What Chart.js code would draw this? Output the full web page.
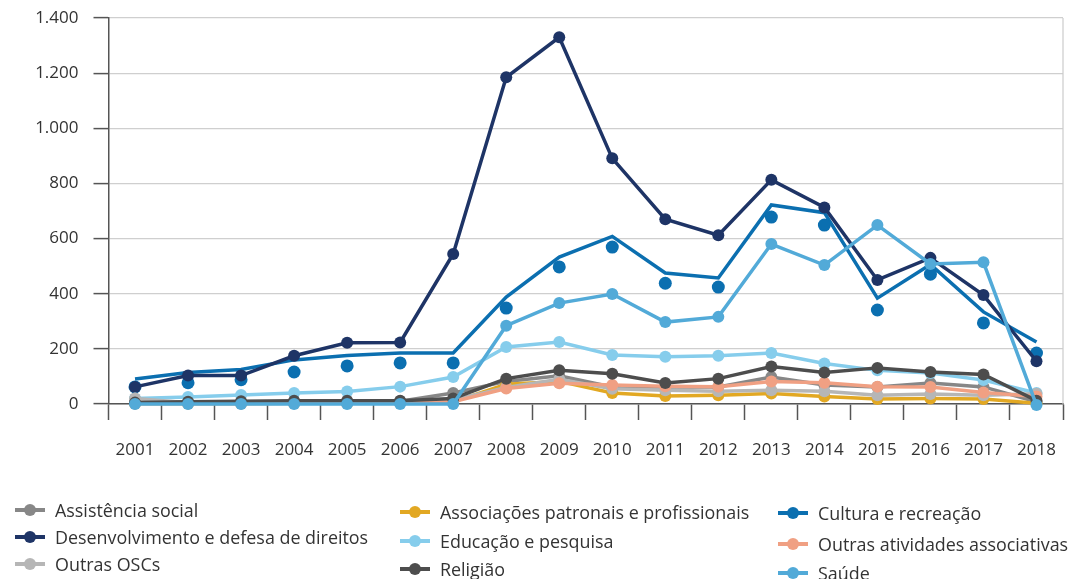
<!DOCTYPE html>
<html>
<head>
<meta charset="utf-8">
<script src="https://cdn.jsdelivr.net/npm/chart.js@4.4.1/dist/chart.umd.min.js"></script>
<style>
  html, body { margin: 0; padding: 0; background: #fff; }
  #wrap { position: relative; width: 1073px; height: 579px; overflow: hidden; }
  #c { position: absolute; left: 0; top: 0; }
  .lg { position: absolute; font-family: "Open Sans", sans-serif; font-size: 17.9px; color: #333; white-space: nowrap; display: flex; align-items: center; }
  .mk { position: relative; width: 30px; height: 12px; margin-right: 10px; }
  .mk .ln { position: absolute; left: 0; right: 0; top: 4px; height: 4px; }
  .mk .dt { position: absolute; left: 9px; top: 0; width: 12px; height: 12px; border-radius: 50%; }
</style>
</head>
<body>
<div id="wrap">
  <canvas id="c" width="1073" height="579"></canvas>
  <div id="legend"></div>
</div>
<script>
const years = ['2001','2002','2003','2004','2005','2006','2007','2008','2009','2010','2011','2012','2013','2014','2015','2016','2017','2018'];
const yTicks = [0, 200, 400, 600, 800, 1000, 1200, 1400];

const assistenciaSocial   = [5, 5, 5, 6, 8, 10, 40, 82, 102, 62, 62, 62, 98, 69, 62, 76, 62, 8];
const associacoesPatronais= [2, 2, 2, 3, 3, 4, 8, 72, 82, 40, 29, 32, 38, 27, 18, 20, 18, 3];
const culturaPontos       = [62, 77, 88, 116, 138, 149, 149, 348, 497, 569, 438, 424, 678, 649, 341, 471, 294, 185];
const culturaLinha        = [91, 114, 125, 160, 176, 185, 185, 388, 533, 608, 475, 457, 722, 694, 384, 506, 334, 225];
const desenvolvimento     = [62, 103, 103, 175, 222, 223, 544, 1185, 1330, 891, 670, 612, 813, 713, 450, 530, 395, 155];
const educacao            = [20, 25, 33, 40, 45, 63, 98, 207, 225, 178, 171, 175, 185, 147, 122, 112, 87, 40];
const outrasAtividades    = [2, 2, 2, 3, 3, 4, 8, 56, 75, 69, 64, 63, 82, 77, 63, 62, 42, 27];
const outrasOSCs          = [20, 5, 5, 5, 6, 8, 15, 60, 90, 55, 50, 46, 50, 46, 32, 36, 32, 37];
const religiao            = [5, 8, 10, 12, 12, 12, 20, 92, 122, 110, 76, 92, 136, 114, 131, 116, 107, 12];
const saude               = [0, 0, 0, 0, 0, 0, 0, 284, 366, 399, 297, 316, 580, 504, 649, 508, 514, -4];

const C = {
  assist: '#878787', assoc: '#E2A823', cult: '#0B6FB0', desenv: '#1E3466',
  educ: '#86CDEC', outAt: '#F0A083', outOSC: '#B6B6B6', relig: '#4D4D4D', saude: '#52AAD8'
};

function ds(label, data, color, order) {
  return {
    label, data, borderColor: color, backgroundColor: color,
    pointBackgroundColor: color, pointBorderColor: color,
    borderWidth: 3.5, pointRadius: 6, pointHoverRadius: 6, pointBorderWidth: 0,
    tension: 0, order, clip: false
  };
}

const datasets = [
  ds('Assistência social', assistenciaSocial, C.assist, 10),
  ds('Associações patronais e profissionais', associacoesPatronais, C.assoc, 9),
  Object.assign(ds('Cultura e recreação', culturaPontos, C.cult, 8), { showLine: false, pointRadius: 6.5 }),
  Object.assign(ds('Cultura e recreação (tendência)', culturaLinha, C.cult, 8), { pointRadius: 0 }),
  ds('Desenvolvimento e defesa de direitos', desenvolvimento, C.desenv, 7),
  ds('Educação e pesquisa', educacao, C.educ, 6),
  ds('Outras atividades associativas', outrasAtividades, C.outAt, 4),
  ds('Outras OSCs', outrasOSCs, C.outOSC, 5),
  ds('Religião', religiao, C.relig, 3),
  ds('Saúde', saude, C.saude, 2)
];

const rightBorder = {
  id: 'rightBorder',
  beforeDatasetsDraw(chart) {
    const { ctx, chartArea } = chart;
    ctx.save();
    ctx.strokeStyle = '#cccccc';
    ctx.lineWidth = 1.2;
    ctx.beginPath();
    ctx.moveTo(chartArea.right, chartArea.top);
    ctx.lineTo(chartArea.right, chartArea.bottom);
    ctx.stroke();
    ctx.restore();
  }
};

new Chart(document.getElementById('c'), {
  type: 'line',
  data: { labels: years, datasets },
  options: {
    responsive: false,
    animation: false,
    layout: { padding: { top: 18, right: 10, bottom: 0, left: 0 } },
    plugins: { legend: { display: false }, tooltip: { enabled: false } },
    scales: {
      x: {
        offset: true,
        grid: { display: true, drawOnChartArea: false, drawTicks: true, tickLength: 16, tickColor: '#555', tickWidth: 1.5, offset: true },
        border: { display: true, color: '#555', width: 1.5 },
        ticks: { color: '#333', font: { family: 'Open Sans', size: 17 }, padding: 20, maxRotation: 0 },
        afterFit(s) { s.height = 175; s.paddingLeft = 0; s.paddingRight = 0; }
      },
      y: {
        min: 0, max: 1400,
        afterBuildTicks(s) { s.ticks = yTicks.map(v => ({ value: v })); },
        grid: { color: '#cfcfcf', lineWidth: 1.2, drawTicks: true, tickLength: 15, tickColor: '#555', tickWidth: 1.5 },
        border: { display: true, color: '#555', width: 1.5 },
        ticks: {
          color: '#333', font: { family: 'Open Sans', size: 17 }, padding: 15,
          callback: v => v.toLocaleString('de-DE')
        },
        afterFit(s) { s.width = 108.5; s.paddingTop = 0; s.paddingBottom = 0; }
      }
    }
  },
  plugins: [rightBorder]
});

const legendItems = [
  { t: 'Assistência social', c: C.assist, x: 15, y: 510 },
  { t: 'Desenvolvimento e defesa de direitos', c: C.desenv, x: 15, y: 537 },
  { t: 'Outras OSCs', c: C.outOSC, x: 15, y: 564 },
  { t: 'Associações patronais e profissionais', c: C.assoc, x: 400, y: 512 },
  { t: 'Educação e pesquisa', c: C.educ, x: 400, y: 541 },
  { t: 'Religião', c: C.relig, x: 400, y: 569 },
  { t: 'Cultura e recreação', c: C.cult, x: 778, y: 513 },
  { t: 'Outras atividades associativas', c: C.outAt, x: 778, y: 544 },
  { t: 'Saúde', c: C.saude, x: 778, y: 573 }
];
const lg = document.getElementById('legend');
legendItems.forEach(it => {
  const d = document.createElement('div');
  d.className = 'lg';
  d.style.left = it.x + 'px';
  d.style.top = (it.y - 12) + 'px';
  d.style.height = '24px';
  d.innerHTML = '<span class="mk"><span class="ln" style="background:' + it.c + '"></span><span class="dt" style="background:' + it.c + '"></span></span><span>' + it.t + '</span>';
  lg.appendChild(d);
});
</script>
</body>
</html>
